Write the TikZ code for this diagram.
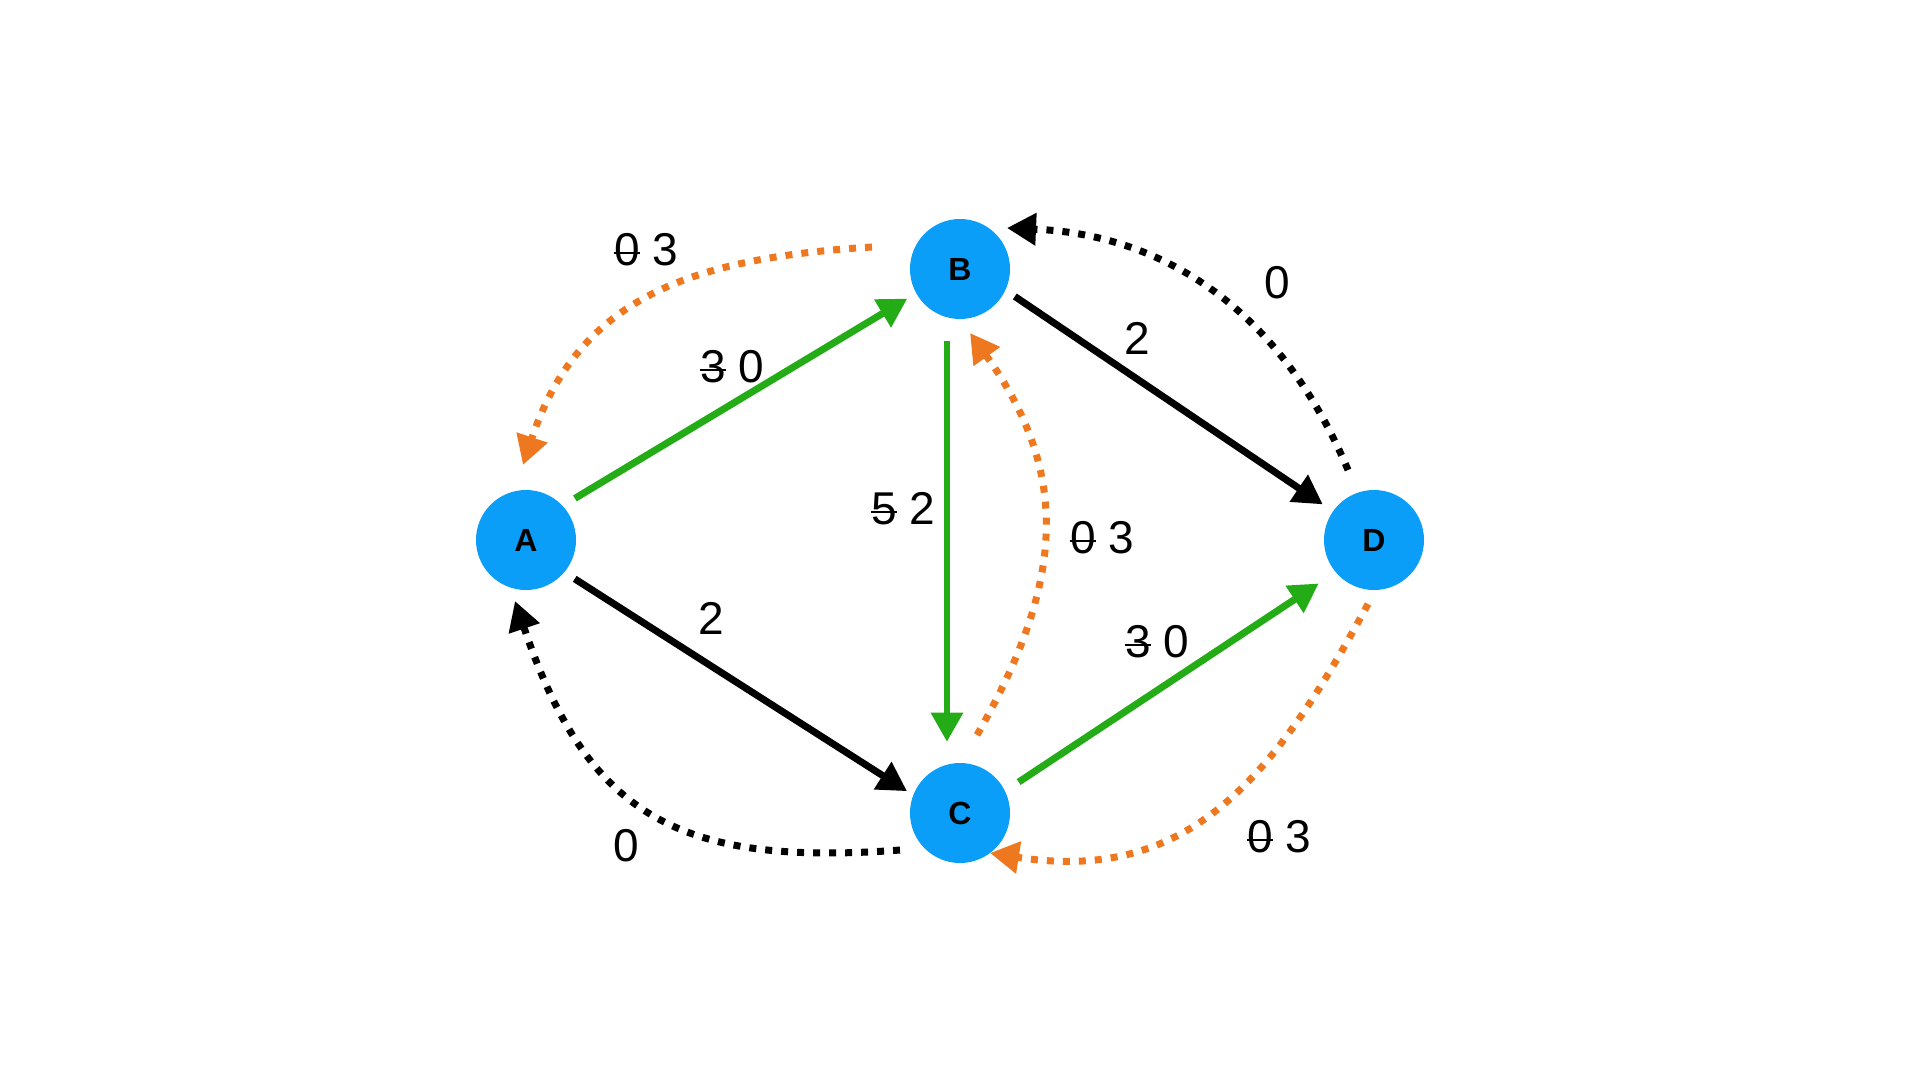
\documentclass[tikz,border=0pt]{standalone}
\usepackage{fontspec}
\setmainfont{Liberation Sans}
\usetikzlibrary{arrows.meta,calc}
\definecolor{nodeblue}{RGB}{10,158,248}
\definecolor{flowgreen}{RGB}{36,172,22}
\definecolor{resorange}{RGB}{238,120,32}
\newcommand{\strk}[1]{\setbox0=\hbox{#1}\rlap{\kern-0.02\wd0\rule[0.38\ht0]{1.04\wd0}{0.9pt}}#1}
\begin{document}
\begin{tikzpicture}[x=0.5pt,y=-0.5pt,
  vert/.style={circle,fill=nodeblue,minimum size=50pt,inner sep=0pt,font=\fontsize{16}{18}\selectfont\bfseries},
  lbl/.style={font=\fontsize{23}{27}\selectfont,inner sep=0pt},
  tipstyle/.style={-{Triangle[length=14.5pt,width=15.5pt]}},
  solidedge/.style={tipstyle,line width=3.5pt},
  greenedge/.style={solidedge,draw=flowgreen},
  blackedge/.style={solidedge,draw=black},
  dotedge/.style={tipstyle,line width=3.5pt,dash pattern=on 3.5pt off 4.5pt},
  orangedot/.style={dotedge,draw=resorange},
  blackdot/.style={dotedge,draw=black}]
\useasboundingbox (0,0) rectangle (1920,1080);
\fill[white] (0,0) rectangle (1920,1080);

\node[vert] (A) at (526,540) {A};
\node[vert] (B) at (960,269) {B};
\node[vert] (C) at (960,813) {C};
\node[vert] (D) at (1374,540) {D};

% straight edges
\draw[greenedge,shorten <=7pt,shorten >=5pt] (A.43) -- (B.209);
\draw[blackedge,shorten <=6pt,shorten >=3.5pt] (A.320) -- (C.159);
\draw[blackedge,shorten <=5.5pt,shorten >=6pt] (B.335) -- (D.145);
\draw[greenedge,shorten <=8pt,shorten >=10pt] (C.26) -- (D.220);
\draw[greenedge,line width=3pt,shorten <=11.5pt,shorten >=11.3pt] (B.255) -- (C.105);

% dotted residual edges
\draw[orangedot] ($(B)+(-88,-22)$) .. controls +(-178,11) and +(56,-169) .. ($(A)+(-3,-75)$);
\draw[blackdot] ($(D)+(-26,-70)$) .. controls +(-64,-152) and +(165,7) .. ($(B)+(47,-41)$);
\draw[orangedot] ($(C)+(17,-78)$) .. controls +(87,-152) and +(101.5,141.75) .. ($(B)+(10,64)$);
\draw[blackdot] ($(C)+(-60,37)$) .. controls +(-224,17) and +(72,213) .. ($(A)+(-11,61)$);
\draw[orangedot] ($(D)+(-6,64)$) .. controls +(-95,176) and +(198,31) .. ($(C)+(30,40)$);

% labels
\node[lbl] (l1) at (646,250) {\strk{0} 3};
\node[lbl] (l2) at (732,367) {\strk{3} 0};
\node[lbl] (l3) at (903,509) {\strk{5} 2};
\node[lbl] (l4) at (1137,338) {2};
\node[lbl] (l5) at (1277,283) {0};
\node[lbl] (l6) at (1102,538) {\strk{0} 3};
\node[lbl] (l7) at (711,618) {2};
\node[lbl] (l8) at (626,846) {0};
\node[lbl] (l9) at (1157,642) {\strk{3} 0};
\node[lbl] (l10) at (1279,837) {\strk{0} 3};
\end{tikzpicture}
\end{document}
